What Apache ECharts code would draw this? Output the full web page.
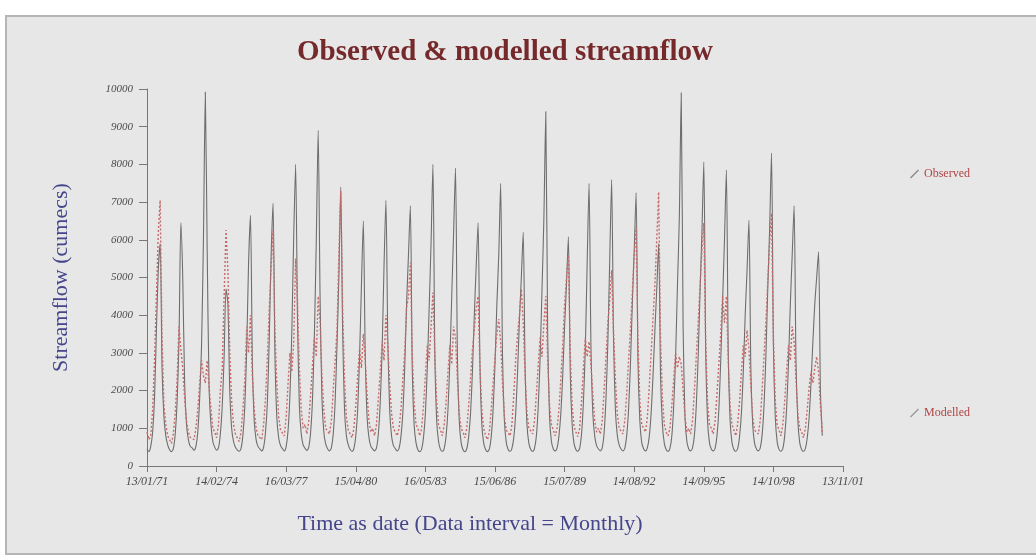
<!DOCTYPE html>
<html>
<head>
<meta charset="utf-8">
<script src="https://cdn.jsdelivr.net/npm/echarts@6/dist/echarts.min.js"></script>
<style>
  html, body { margin: 0; padding: 0; background: #ffffff; }
  #streamflowChart { width: 1036px; height: 559px; }
</style>
</head>
<body>
<div id="streamflowChart"></div>
<script>
// tick labels on the date axis, one every 37 months
const dateTicks = ["13/01/71", "14/02/74", "16/03/77", "15/04/80", "16/05/83", "15/06/86",
    "15/07/89", "14/08/92", "14/09/95", "14/10/98", "13/11/01"];

// monthly flows, Jan 1971 - Dec 2000 (cumecs), one row per year
const observed = [
    450, 380, 520, 900, 1800, 3600, 5200, 5900, 2600, 1300, 800, 560,
    430, 380, 460, 850, 1700, 3300, 6450, 5000, 2200, 1100, 700, 520,
    480, 420, 520, 900, 1800, 3200, 6000, 9920, 5700, 2100, 1100, 650,
    500, 420, 480, 850, 1600, 2900, 4700, 4300, 2000, 1000, 650, 500,
    430, 390, 470, 820, 1600, 3100, 5400, 6650, 2800, 1200, 700, 520,
    450, 400, 500, 900, 1700, 3400, 5600, 6970, 3000, 1300, 750, 540,
    460, 400, 520, 950, 1900, 3600, 6100, 8000, 3900, 1600, 850, 560,
    470, 410, 500, 900, 1800, 3500, 6000, 8900, 4500, 1800, 900, 580,
    460, 400, 480, 850, 1700, 3200, 5000, 7400, 3600, 1500, 800, 560,
    440, 390, 470, 800, 1500, 2900, 4800, 6500, 3000, 1300, 750, 520,
    450, 400, 480, 860, 1700, 3100, 5300, 7050, 3400, 1500, 800, 540,
    460, 400, 470, 780, 1400, 2600, 4300, 5600, 6900, 2600, 1100, 620,
    430, 380, 450, 760, 1400, 2600, 4200, 5900, 8000, 3000, 1200, 650,
    440, 390, 470, 800, 1500, 2800, 4500, 6200, 7900, 3000, 1200, 620,
    430, 380, 460, 780, 1400, 2500, 4000, 5300, 6450, 2700, 1100, 600,
    440, 380, 450, 780, 1500, 2700, 4300, 5600, 7500, 2900, 1200, 620,
    440, 390, 470, 760, 1400, 2500, 3900, 5000, 6200, 2600, 1100, 600,
    440, 390, 470, 800, 1600, 2900, 4700, 6600, 9400, 3500, 1300, 650,
    450, 400, 480, 800, 1400, 2400, 3700, 4800, 6080, 2500, 1100, 600,
    440, 390, 470, 850, 1700, 3100, 5400, 7500, 3200, 1400, 800, 540,
    450, 400, 480, 880, 1800, 3300, 5500, 7600, 3400, 1500, 820, 560,
    450, 400, 470, 800, 1500, 2700, 4300, 5700, 7250, 2800, 1200, 620,
    460, 400, 480, 780, 1400, 2400, 3600, 4700, 5900, 2400, 1100, 600,
    440, 390, 470, 800, 1600, 2900, 4800, 6600, 9900, 3700, 1300, 650,
    450, 400, 480, 820, 1600, 2900, 4600, 6200, 8060, 3100, 1200, 620,
    450, 400, 470, 800, 1500, 2800, 4400, 6000, 7850, 3000, 1200, 620,
    440, 390, 460, 780, 1400, 2500, 4000, 5200, 6520, 2600, 1100, 600,
    450, 400, 480, 820, 1600, 2900, 4700, 6300, 8300, 3200, 1300, 640,
    440, 390, 460, 800, 1500, 2700, 4300, 5600, 6900, 2800, 1200, 620,
    440, 390, 460, 750, 1300, 2200, 3300, 4300, 5000, 5680, 2000, 800,
];

const modelled = [
    900, 700, 800, 1500, 2800, 4500, 6200, 7050, 3400, 1600, 1100, 800,
    700, 600, 850, 1400, 2300, 3700, 3100, 2600, 1800, 1200, 900, 760,
    800, 700, 1000, 1500, 2200, 2800, 2400, 2200, 2800, 2100, 1500, 1000,
    900, 750, 1100, 2000, 2600, 4500, 6260, 5200, 3000, 1700, 1100, 850,
    750, 650, 900, 1500, 2300, 3700, 3000, 4000, 2400, 1500, 1000, 800,
    800, 700, 1100, 1800, 2900, 4200, 5300, 6260, 3600, 2200, 1300, 950,
    1000, 800, 1300, 2200, 3000, 2500, 3300, 5500, 4400, 2600, 1500, 1000,
    1100, 850, 1200, 1900, 2700, 3400, 2900, 4500, 3800, 2400, 1500, 1000,
    1000, 850, 1200, 2000, 2800, 3600, 5600, 7300, 4200, 2300, 1300, 950,
    900, 750, 1000, 1600, 2400, 3100, 2600, 3500, 2800, 1900, 1200, 900,
    1000, 800, 1100, 1800, 2500, 3300, 2800, 4000, 3200, 2200, 1400, 1000,
    1000, 800, 1000, 1500, 2300, 3000, 4200, 4500, 5400, 3000, 1700, 1100,
    1000, 800, 1000, 1600, 2400, 3200, 2800, 3700, 4600, 3000, 1700, 1100,
    950, 800, 1100, 1700, 2500, 3200, 2700, 3700, 3400, 2300, 1400, 1000,
    900, 750, 1000, 1600, 2300, 3100, 3600, 4200, 4500, 2600, 1500, 1000,
    800, 700, 900, 1500, 2200, 2900, 3500, 3900, 3300, 2200, 1300, 950,
    900, 800, 1100, 1900, 2800, 3500, 4000, 4700, 3800, 2400, 1400, 1000,
    1000, 850, 1200, 1900, 2700, 3400, 2900, 3800, 4500, 2800, 1600, 1100,
    950, 800, 1000, 1500, 2300, 3200, 4300, 5000, 5600, 3000, 1600, 1050,
    900, 780, 1000, 1700, 2600, 3400, 2900, 3300, 2700, 1900, 1200, 900,
    1000, 850, 1200, 2000, 2900, 3800, 4400, 5200, 3600, 2300, 1400, 1000,
    1000, 850, 1200, 1900, 2800, 3600, 4600, 5600, 6340, 3300, 1700, 1100,
    1100, 900, 1300, 2100, 3000, 3900, 4800, 6000, 7270, 3400, 1800, 1100,
    900, 800, 1000, 1600, 2300, 3000, 2600, 2900, 2700, 2000, 1300, 900,
    1000, 850, 1200, 2000, 2900, 3800, 4800, 5700, 6450, 3300, 1700, 1100,
    1000, 850, 1200, 1900, 2700, 3500, 4500, 3800, 4500, 2800, 1600, 1100,
    950, 800, 1100, 1700, 2500, 3200, 2900, 3600, 3100, 2100, 1300, 950,
    1000, 850, 1200, 2000, 2900, 3800, 4900, 5900, 6700, 3400, 1700, 1100,
    950, 800, 1100, 1700, 2500, 3200, 2800, 3700, 3300, 2300, 1400, 1000,
    900, 750, 1000, 1500, 2100, 2500, 2200, 2600, 2900, 2500, 1600, 900,
];

const serif = "'Liberation Serif', 'DejaVu Serif', serif";

document.addEventListener("DOMContentLoaded", () => {
    const chart = echarts.init(document.querySelector("#streamflowChart"));
    chart.setOption({
        animation: false,
        backgroundColor: "#ffffff",
        graphic: [
            {
                type: "rect",
                z: -10,
                shape: { x: 6, y: 16, width: 1032, height: 538 },
                style: { fill: "#e7e7e7", stroke: "#b5b5b5", lineWidth: 2 },
            },
        ],
        title: [
            {
                text: "Observed & modelled streamflow",
                left: 500,
                textAlign: "center",
                top: 33,
                textStyle: {
                    fontFamily: serif,
                    fontWeight: "bold",
                    fontSize: 29,
                    color: "#76292b",
                },
            },
            {
                // x axis name, set off-centre as in the original
                text: "Time as date (Data interval = Monthly)",
                left: 465,
                textAlign: "center",
                top: 508,
                textStyle: {
                    fontFamily: serif,
                    fontWeight: "normal",
                    fontSize: 22,
                    color: "#45458c",
                },
            },
        ],
        legend: [
            {
                data: ["Observed"],
                left: 905,
                top: 163,
                itemWidth: 9,
                itemHeight: 9,
                icon: "path://M0,9 L8,1 L9,2 L1,10 Z",
                textStyle: { fontFamily: serif, fontSize: 12, color: "#b04545" },
            },
            {
                data: ["Modelled"],
                left: 905,
                top: 402,
                itemWidth: 9,
                itemHeight: 9,
                icon: "path://M0,9 L8,1 L9,2 L1,10 Z",
                textStyle: { fontFamily: serif, fontSize: 12, color: "#b04545" },
            },
        ],
        grid: {
            left: 147,
            right: 193,
            top: 89,
            bottom: 93,
        },
        xAxis: {
            type: "value",
            min: 0,
            max: 370,
            interval: 37,
            axisLine: { lineStyle: { color: "#777777" } },
            axisTick: { length: 6, lineStyle: { color: "#777777" } },
            splitLine: { show: false },
            axisLabel: {
                margin: 10,
                fontFamily: serif,
                fontStyle: "italic",
                fontSize: 12,
                color: "#4a4a4a",
                formatter: (v) => dateTicks[Math.round(v / 37)],
            },
        },
        yAxis: {
            type: "value",
            min: 0,
            max: 10000,
            interval: 1000,
            name: "Streamflow (cumecs)",
            nameLocation: "middle",
            nameGap: 75,
            nameTextStyle: { fontFamily: serif, fontSize: 22, color: "#45458c" },
            axisLine: { show: true, lineStyle: { color: "#777777" } },
            axisTick: { show: true, length: 8, lineStyle: { color: "#777777" } },
            splitLine: { show: false },
            axisLabel: {
                margin: 14,
                fontFamily: serif,
                fontStyle: "italic",
                fontSize: 11,
                color: "#4a4a4a",
                formatter: (v) => String(v),
            },
        },
        series: [
            {
                name: "Observed",
                type: "line",
                showSymbol: false,
                smooth: 0.25,
                data: observed.map((v, i) => [i, v]),
                itemStyle: { color: "#8a8a8a" },
                lineStyle: { color: "#6e6e6e", width: 1.1 },
                z: 2,
            },
            {
                name: "Modelled",
                type: "line",
                showSymbol: false,
                data: modelled.map((v, i) => [i, v]),
                itemStyle: { color: "#9a9a9a" },
                lineStyle: { color: "#c86a6a", width: 1.4, type: [2, 2] },
                z: 3,
            },
        ],
    });
});
</script>
</body>
</html>
